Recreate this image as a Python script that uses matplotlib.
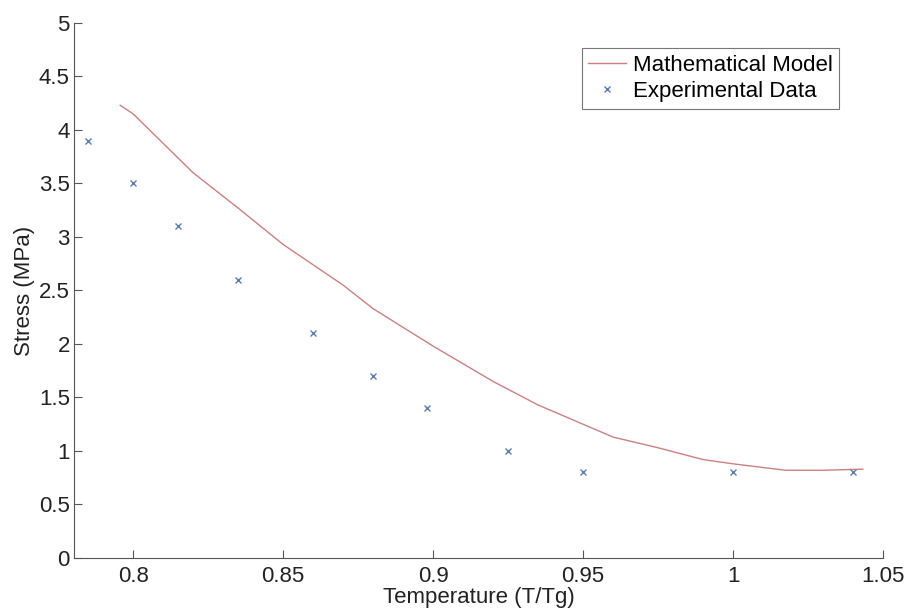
import matplotlib.pyplot as plt

plt.rcParams['font.family'] = ['Liberation Sans', 'DejaVu Sans']

# experimental points
exp_T = [0.785, 0.80, 0.815, 0.835, 0.86, 0.88, 0.898, 0.925, 0.95, 1.00, 1.04]
exp_stress = [3.9, 3.5, 3.1, 2.6, 2.1, 1.7, 1.4, 1.0, 0.8, 0.8, 0.8]

# model curve
model_T = [0.7957, 0.80, 0.82, 0.835, 0.85, 0.87, 0.88, 0.90, 0.92, 0.935,
           0.95, 0.96, 0.975, 0.99, 1.00, 1.0175, 1.03, 1.0433]
model_stress = [4.23, 4.15, 3.6, 3.27, 2.93, 2.55, 2.33, 1.98, 1.65, 1.43,
                1.25, 1.13, 1.03, 0.92, 0.88, 0.82, 0.82, 0.83]

fig = plt.figure(figsize=(9.09, 6.13), dpi=100)
ax = fig.add_axes([0.0814, 0.0897, 0.89, 0.873])

ax.plot(model_T, model_stress, color='#cf7f7f', lw=1.0, label='Mathematical Model')
ax.plot(exp_T, exp_stress, 'x', color='#5a7db0', ms=4, mew=1.0, label='Experimental Data')

ax.set_xlim(0.7803, 1.05)
ax.set_ylim(0, 5)
ax.set_xticks([0.8, 0.85, 0.9, 0.95, 1.0, 1.05])
ax.set_xticklabels(['0.8', '0.85', '0.9', '0.95', '1', '1.05'])
ax.set_yticks([0, 0.5, 1, 1.5, 2, 2.5, 3, 3.5, 4, 4.5, 5])
ax.set_yticklabels(['0', '0.5', '1', '1.5', '2', '2.5', '3', '3.5', '4', '4.5', '5'])

for s in ['top', 'right']:
    ax.spines[s].set_visible(False)
for s in ['left', 'bottom']:
    ax.spines[s].set_color('#555555')
ax.tick_params(direction='in', length=6, colors='#555555', labelcolor='#222222',
               labelsize=16)
ax.tick_params(axis='x', pad=6)
ax.tick_params(axis='y', pad=3)

ax.set_xlabel('Temperature (T/Tg)', fontsize=16, color='#222222', labelpad=0)
ax.set_ylabel('Stress (MPa)', fontsize=16, color='#222222', labelpad=3)

leg = ax.legend(loc='upper right', bbox_to_anchor=(0.946, 0.953), fontsize=16,
                frameon=True, fancybox=False, handlelength=1.7,
                borderpad=0.3, labelspacing=0.25, handletextpad=0.3,
                borderaxespad=0)
leg.get_frame().set_edgecolor('#555555')
leg.get_frame().set_linewidth(0.8)

fig.savefig('out.png', dpi=100)
